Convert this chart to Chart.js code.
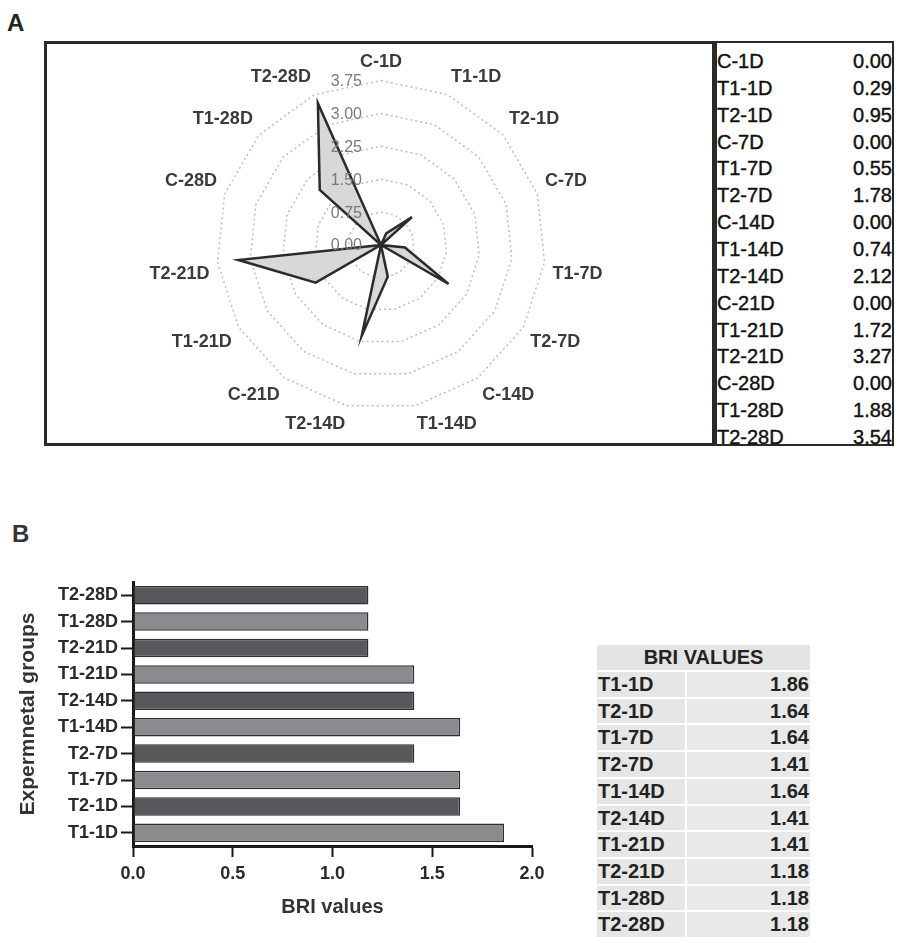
<!DOCTYPE html>
<html>
<head>
<meta charset="utf-8">
<script src="https://cdn.jsdelivr.net/npm/chart.js@4/dist/chart.umd.min.js"></script>
<style>
  body { margin: 0; background: #fff; font-family: "Liberation Sans", Arial, sans-serif; }
  #page { position: relative; width: 907px; height: 943px; overflow: hidden; }
  .letter { position: absolute; font-weight: bold; font-size: 24px; color: #222; }
  #panelA { position: absolute; left: 44px; top: 41px; width: 671px; height: 405px; border: 3px solid #2a2a2a; box-sizing: border-box; }
  #radar { position: absolute; left: 0; top: 0; }
  #tableA { position: absolute; left: 715px; top: 41px; width: 179px; height: 405px; border: 2px solid #2a2a2a; box-sizing: border-box; padding-top: 5px; }
  #tableA .row { display: flex; justify-content: space-between; height: 26.86px; line-height: 26.86px; font-size: 20px; color: #111; -webkit-text-stroke: 0.4px #111; }
  #bars { position: absolute; left: 0; top: 560px; }
  #tableB { position: absolute; left: 597px; top: 645px; width: 213px; border-collapse: collapse; font-weight: bold; color: #222; }
  #tableB th { background: #e4e4e4; font-size: 20px; height: 25px; line-height: 25px; padding: 0; text-align: center; }
  #tableB td { background: #e6e6e6; font-size: 20px; height: 24.7px; line-height: 24.7px; padding: 0 1px; border-top: 2px solid #fff; }
  #tableB td.lab { width: 86px; border-right: 2px solid #fff; }
  #tableB td.val { text-align: right; background: #e9e9e9; }
</style>
</head>
<body>
<div id="page">
  <div class="letter" style="left:7px; top:9px;">A</div>
  <div id="panelA"><canvas id="radar" width="665" height="399"></canvas></div>
  <div id="tableA"></div>

  <div class="letter" style="left:12px; top:520px; color:#333;">B</div>
  <canvas id="bars" width="570" height="363"></canvas>
  <table id="tableB"></table>
</div>

<script>
// Panel A: radar
const radarGroups = ["C-1D", "T1-1D", "T2-1D", "C-7D", "T1-7D", "T2-7D", "C-14D", "T1-14D", "T2-14D",
                     "C-21D", "T1-21D", "T2-21D", "C-28D", "T1-28D", "T2-28D"];
const radarValues = [0.00, 0.29, 0.95, 0.00, 0.55, 1.78, 0.00, 0.74, 2.12, 0.00, 1.72, 3.27, 0.00, 1.88, 3.54];
const radarTicks = [0.00, 0.75, 1.50, 2.25, 3.00, 3.75];

// Panel B: BRI bars
const briGroups = ["T1-1D", "T2-1D", "T1-7D", "T2-7D", "T1-14D", "T2-14D", "T1-21D", "T2-21D", "T1-28D", "T2-28D"];
const briValues = [1.86, 1.64, 1.64, 1.41, 1.64, 1.41, 1.41, 1.18, 1.18, 1.18];
const briTicks = [0.0, 0.5, 1.0, 1.5, 2.0];

const FONT = '"Liberation Sans", Arial, sans-serif';

// tabela A
const tableA = document.getElementById('tableA');
radarGroups.forEach((g, i) => {
    const row = document.createElement('div');
    row.className = 'row';
    row.innerHTML = `<span>${g}</span><span>${radarValues[i].toFixed(2)}</span>`;
    tableA.appendChild(row);
});

// tabela B
const tableB = document.getElementById('tableB');
let html = '<tr><th colspan="2">BRI VALUES</th></tr>';
briGroups.forEach((g, i) => {
    html += `<tr><td class="lab">${g}</td><td class="val">${briValues[i].toFixed(2)}</td></tr>`;
});
tableB.innerHTML = html;

// tick labels of the radar, drawn left of the vertical axis
const radarTickPlugin = {
    id: 'radarTicks',
    afterDatasetsDraw(chart) {
        const s = chart.scales.r;
        const ctx = chart.ctx;
        ctx.save();
        ctx.font = '16px ' + FONT;
        ctx.fillStyle = '#7a7a7a';
        ctx.textAlign = 'right';
        ctx.textBaseline = 'middle';
        radarTicks.forEach(v => {
            const y = s.yCenter - s.getDistanceFromCenterForValue(v);
            ctx.fillText(v.toFixed(2), s.xCenter - 19, y + 1);
        });
        ctx.restore();
    }
};

new Chart(document.getElementById('radar'), {
    type: 'radar',
    data: {
        labels: radarGroups,
        datasets: [{
            data: radarValues,
            backgroundColor: '#d8d8d8',
            borderColor: '#2b2b2b',
            borderWidth: 2.5,
            pointRadius: 0,
            fill: true
        }]
    },
    options: {
        responsive: false,
        animation: false,
        devicePixelRatio: 1,
        layout: { padding: { top: 5, bottom: 5, left: 3, right: 0 } },
        plugins: { legend: { display: false }, tooltip: { enabled: false } },
        scales: {
            r: {
                min: 0,
                max: 3.75,
                ticks: { display: false, stepSize: 0.75 },
                angleLines: { display: false },
                grid: { color: '#bdbdbd', lineWidth: 1.5 },
                border: { dash: [2, 3] },
                pointLabels: {
                    color: '#3b3b3b',
                    padding: 8,
                    font: { family: FONT, size: 18, weight: 'bold' }
                }
            }
        }
    },
    plugins: [radarTickPlugin]
});

new Chart(document.getElementById('bars'), {
    type: 'bar',
    data: {
        labels: briGroups,
        datasets: [{
            data: briValues,
            backgroundColor: briGroups.map(g => g.startsWith('T2') ? '#58585c' : '#8b8b8f'),
            borderColor: '#2e2e2e',
            borderWidth: 1.5,
            borderSkipped: false,
            barPercentage: 0.7,
            categoryPercentage: 1
        }]
    },
    options: {
        indexAxis: 'y',
        responsive: false,
        animation: false,
        devicePixelRatio: 1,
        layout: { padding: { top: 22, right: 38, left: 0, bottom: 0 } },
        plugins: { legend: { display: false }, tooltip: { enabled: false } },
        scales: {
            y: {
                reverse: true,
                afterFit: s => { s.width = 133; },
                border: { display: true, width: 3, color: '#1a1a1a' },
                grid: { drawOnChartArea: false, offset: false, tickLength: 12, tickWidth: 2, tickColor: '#1a1a1a' },
                ticks: { padding: 3, color: '#2a2a2a', font: { family: FONT, size: 18, weight: 'bold' } },
                title: {
                    display: true,
                    text: 'Expermnetal groups',
                    color: '#333',
                    padding: { top: 16, bottom: 4 },
                    font: { family: FONT, size: 21, weight: 'bold' }
                }
            },
            x: {
                min: 0,
                max: 2,
                afterFit: s => { s.height = 77; },
                afterBuildTicks: s => { s.ticks = briTicks.map(v => ({ value: v })); },
                border: { display: true, width: 3, color: '#1a1a1a' },
                grid: { drawOnChartArea: false, tickLength: 11, tickWidth: 2, tickColor: '#1a1a1a' },
                ticks: {
                    padding: 6,
                    color: '#2a2a2a',
                    font: { family: FONT, size: 18, weight: 'bold' },
                    callback: v => Number(v).toFixed(1)
                },
                title: {
                    display: true,
                    text: 'BRI values',
                    color: '#333',
                    padding: { top: 4, bottom: 4 },
                    font: { family: FONT, size: 20, weight: 'bold' }
                }
            }
        }
    }
});
</script>
</body>
</html>
